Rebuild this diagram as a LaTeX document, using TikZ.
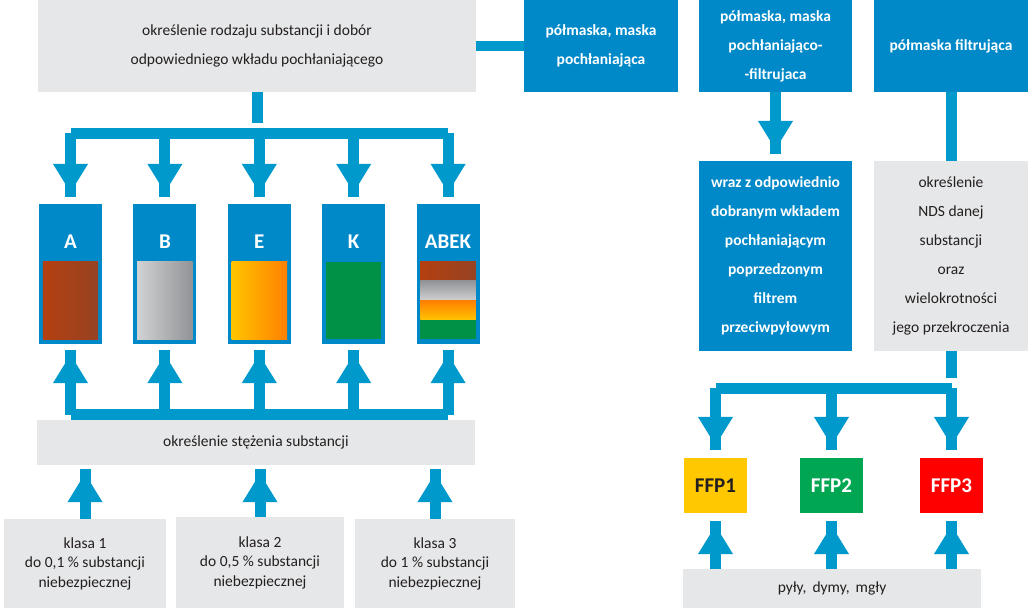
\documentclass[tikz,border=0pt]{standalone}
\usepackage{fontspec}
\setmainfont{Carlito}
\usepackage{xcolor}
\usepackage{tikz}
\usetikzlibrary{arrows.meta,positioning}
\definecolor{mblue}{RGB}{0,137,200}
\definecolor{pipeblue}{RGB}{0,153,204}
\definecolor{boxgray}{RGB}{230,231,232}
\definecolor{txtdark}{RGB}{35,31,32}
\definecolor{brownL}{RGB}{180,64,16}
\definecolor{brownR}{RGB}{150,66,35}
\definecolor{grayL}{RGB}{208,210,212}
\definecolor{grayR}{RGB}{145,147,150}
\definecolor{yelE}{RGB}{255,196,0}
\definecolor{oraE}{RGB}{255,128,0}
\definecolor{greenK}{RGB}{0,144,70}
\definecolor{ffpyel}{RGB}{255,200,0}
\definecolor{ffpgreen}{RGB}{0,166,81}
\definecolor{ffpred}{RGB}{255,0,0}

\begin{document}
\begin{tikzpicture}[
  x=1pt, y=-1pt, node distance=10pt and 31pt,
  pipe/.style={draw=pipeblue, line width=11pt},
  flow/.style={pipe, -{Triangle[width=33pt,length=29pt,sep=4.5pt]
                       Triangle[width=0.5pt,length=0.5pt,sep=0pt,color=white]},
               shorten >=6pt},
  g/.style={fill=boxgray, text=txtdark, align=center, inner sep=0pt,
            font=\fontsize{15.5}{29}\selectfont},
  kl/.style={g, minimum height=89pt, font=\fontsize{15.5}{19.5}\selectfont},
  b/.style={fill=mblue, text=white, align=center, inner sep=0pt,
            font=\bfseries\fontsize{15.5}{29}\selectfont},
  cart/.style={fill=mblue, minimum width=63pt, minimum height=140pt, inner sep=0pt},
  cartlbl/.style={anchor=center, yshift=-38pt, text=white,
            font=\bfseries\fontsize{21}{24}\selectfont},
  ffp/.style={minimum width=63pt, minimum height=55pt, inner sep=0pt,
            font=\bfseries\fontsize{21}{24}\selectfont}]
\useasboundingbox (0,0) rectangle (1029,608);

% left: absorbing cartridges
\node[g, minimum width=438pt, minimum height=92pt] (sel) at (257,46)
  {określenie rodzaju substancji i dobór\\odpowiedniego wkładu pochłaniającego};
\node[cart, label={[cartlbl]north:A}] (A) at (70.5,274) {};
\node[cart, label={[cartlbl]north:B}, right=of A] (B) {};
\node[cart, label={[cartlbl]north:E}, right=of B] (E) {};
\node[cart, label={[cartlbl]north:K}, right=of E] (K) {};
\node[cart, label={[cartlbl]north:ABEK}, right=of K] (ABEK) {};
\node[g, minimum width=438pt, minimum height=45pt] (conc) at (256,442.5)
  {określenie stężenia substancji};
\node[kl, minimum width=162pt] (kl1) at (85,563.5)
  {klasa 1\\do 0,1 \% substancji\\niebezpiecznej};
\node[kl, minimum width=168pt, minimum height=91pt] (kl2) at (260,562.5)
  {klasa 2\\do 0,5 \% substancji\\niebezpiecznej};
\node[kl, minimum width=160pt] (kl3) at (435,563.5)
  {klasa 3\\do 1 \% substancji\\niebezpiecznej};

% cartridge fillings
\shade[left color=brownL, right color=brownR]
  ([shift={(4,-5)}]A.south west) rectangle ([shift={(-4,58)}]A.north east);
\shade[left color=grayL, right color=grayR]
  ([shift={(4,-5)}]B.south west) rectangle ([shift={(-4,58)}]B.north east);
\shade[left color=yelE, right color=oraE]
  ([shift={(4,-5)}]E.south west) rectangle ([shift={(-4,58)}]E.north east);
\fill[greenK]
  ([shift={(4,-5)}]K.south west) rectangle ([shift={(-4,58)}]K.north east);
\shade[left color=brownL, right color=brownR]
  ([shift={(4,58)}]ABEK.north west) rectangle ([shift={(-4,77)}]ABEK.north east);
\shade[top color=grayR, bottom color=grayL]
  ([shift={(4,77)}]ABEK.north west) rectangle ([shift={(-4,97)}]ABEK.north east);
\shade[top color=oraE, bottom color=yelE]
  ([shift={(4,97)}]ABEK.north west) rectangle ([shift={(-4,116)}]ABEK.north east);
\fill[greenK]
  ([shift={(4,116)}]ABEK.north west) rectangle ([shift={(-4,-5)}]ABEK.south east);

% right: masks
\node[b, minimum width=154pt, minimum height=92pt] (pm1) at (601,46)
  {półmaska, maska\\pochłaniająca};
\node[b, minimum width=153pt, minimum height=92pt] (pm2) at (775.5,46)
  {półmaska, maska\\pochłaniająco-\\-filtrujaca};
\node[b, minimum width=154pt, minimum height=92pt] (pf) at (951,46)
  {półmaska filtrująca};
\node[b, minimum width=153pt, minimum height=190pt] (wraz) at (775.5,256)
  {wraz z odpowiednio\\dobranym wkładem\\pochłaniającym\\poprzedzonym\\filtrem\\przeciwpyłowym};
\node[g, minimum width=154pt, minimum height=190pt] (nds) at (951,256)
  {określenie\\NDS danej\\substancji\\oraz\\wielokrotności\\jego przekroczenia};
\node[ffp, fill=ffpyel, text=txtdark] (ffp1) at (715.5,485.5) {FFP1};
\node[ffp, fill=ffpgreen, text=white] (ffp2) at (831.5,485.5) {FFP2};
\node[ffp, fill=ffpred, text=white] (ffp3) at (951.5,485.5) {FFP3};
\node[g, minimum width=298pt, minimum height=39pt] (dust) at (832,588.5)
  {pyły,\, dymy,\, mgły};

% connectors left
\draw[pipe, line width=10pt] (sel.east) -- (pm1.west);
\draw[pipe] (sel.south) -- ++(0,31);
\coordinate (tbar) at (0,133);
\draw[pipe, line cap=square] (A.north |- tbar) -- (ABEK.north |- tbar);
\draw[flow] (A.north |- tbar) -- (A.north);
\draw[flow] (B.north |- tbar) -- (B.north);
\draw[flow] (E.north |- tbar) -- (E.north);
\draw[flow] (K.north |- tbar) -- (K.north);
\draw[flow] (ABEK.north |- tbar) -- (ABEK.north);
\coordinate (bbar) at (0,414.5);
\draw[pipe, line cap=square] (A.south |- bbar) -- (ABEK.south |- bbar);
\draw[flow, shorten >=5pt] (A.south |- bbar) -- (A.south);
\draw[flow, shorten >=5pt] (B.south |- bbar) -- (B.south);
\draw[flow, shorten >=5pt] (E.south |- bbar) -- (E.south);
\draw[flow, shorten >=5pt] (K.south |- bbar) -- (K.south);
\draw[flow, shorten >=5pt] (ABEK.south |- bbar) -- (ABEK.south);
\draw[flow, shorten >=3pt] (kl1.north) -- (kl1.north |- conc.south);
\draw[flow, shorten >=3pt] (kl2.north) -- (kl2.north |- conc.south);
\draw[flow, shorten >=3pt] (kl3.north) -- (kl3.north |- conc.south);

% connectors right
\draw[flow] (pm2.south) -- (wraz.north);
\draw[pipe] (pf.south) -- (nds.north);
\draw[pipe] (nds.south) -- ++(0,27);
\coordinate (rbar) at (0,388);
\draw[pipe, line cap=square] (ffp1.north |- rbar) -- (ffp3.north |- rbar);
\draw[flow, shorten >=7pt] (ffp1.north |- rbar) -- (ffp1.north);
\draw[flow, shorten >=7pt] (ffp2.north |- rbar) -- (ffp2.north);
\draw[flow, shorten >=7pt] (ffp3.north |- rbar) -- (ffp3.north);
\draw[flow, shorten >=7pt] (ffp1.south |- dust.north) -- (ffp1.south);
\draw[flow, shorten >=7pt] (ffp2.south |- dust.north) -- (ffp2.south);
\draw[flow, shorten >=7pt] (ffp3.south |- dust.north) -- (ffp3.south);
\end{tikzpicture}
\end{document}
